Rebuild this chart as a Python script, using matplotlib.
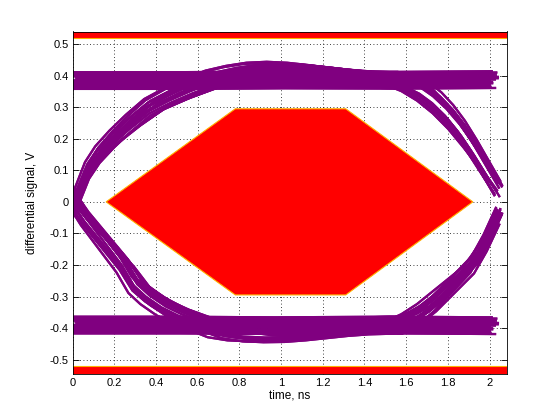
import numpy as np
import matplotlib.pyplot as plt

plt.rcParams['font.family'] = ['Liberation Sans', 'DejaVu Sans']

# eye mask (ns, V)
hex_t = [0.16, 0.78, 1.31, 1.92, 1.31, 0.78]
hex_v = [0.0, 0.295, 0.295, 0.0, -0.295, -0.295]
mask_level = 0.52

# trace shapes, first half of the window
rise_t = [-0.04, 0.00, 0.01, 0.04, 0.07, 0.12, 0.19, 0.27, 0.36, 0.46, 0.56, 0.66, 0.76, 0.86, 0.96, 1.06, 1.16, 1.26, 1.36, 1.46, 1.56]
rise_v = [-0.06, -0.015, 0.00, 0.05, 0.10, 0.15, 0.20, 0.25, 0.30, 0.335, 0.365, 0.39, 0.405, 0.415, 0.418, 0.415, 0.408, 0.40, 0.393, 0.388, 0.386]
fall_t = [-0.04, 0.00, 0.01, 0.06, 0.12, 0.18, 0.24, 0.30, 0.36, 0.44, 0.52, 0.60, 0.70, 0.80, 0.90, 1.00, 1.10, 1.20, 1.30, 1.40, 1.56]
fall_v = [0.06, 0.015, 0.00, -0.05, -0.10, -0.15, -0.20, -0.265, -0.30, -0.335, -0.36, -0.38, -0.405, -0.415, -0.418, -0.417, -0.412, -0.405, -0.398, -0.393, -0.39]
high_t = [0.00, 0.50, 1.00, 1.56]
high_v = [0.385, 0.385, 0.387, 0.386]
low_t = [0.00, 0.50, 1.00, 1.56]
low_v = [-0.39, -0.39, -0.392, -0.39]

# second half of the window
rise2_t = [1.56, 1.62, 1.68, 1.74, 1.80, 1.86, 1.92, 1.98, 2.04]
rise2_v = [-0.39, -0.375, -0.352, -0.32, -0.28, -0.24, -0.2, -0.13, -0.045]
fall2_t = [1.56, 1.62, 1.68, 1.74, 1.80, 1.86, 1.92, 1.98, 2.04]
fall2_v = [0.386, 0.375, 0.355, 0.325, 0.285, 0.235, 0.175, 0.11, 0.045]
high2_t = [1.56, 2.02]
high2_v = [0.386, 0.388]
low2_t = [1.56, 2.02]
low2_v = [-0.39, -0.392]

# spread of the traces: edge speed, time shift (ns), level shift (V)
jit_k = [0.94, 1.06, 0.97, 1.03, 1.0, 0.95, 1.05, 1.25, 0.99, 1.02, 0.96, 1.08, 1.2, 0.98, 1.01, 1.04]
jit_t = [0.01, -0.015, 0.018, -0.006, 0.0, -0.018, 0.012, -0.008, 0.02, -0.02, 0.004, 0.014, 0.0, -0.01, 0.007, -0.003]
jit_v = [0.022, -0.02, 0.004, -0.012, 0.014, -0.024, 0.018, -0.004, 0.008, -0.016, 0.0, 0.01, -0.008, 0.026, -0.027, 0.02]
t_end = 2.06

fig = plt.figure(figsize=(5.6, 4.2), dpi=100)
ax = fig.add_axes([0.13, 0.11, 0.775, 0.815])

first = [(rise_t, rise_v), (high_t, high_v), (fall_t, fall_v), (low_t, low_v)]
second_hi = [(fall2_t, fall2_v), (high2_t, high2_v)]
second_lo = [(rise2_t, rise2_v), (low2_t, low2_v)]

for i, (t1, v1) in enumerate(first):
    seconds = second_hi if i < 2 else second_lo
    for t2, v2 in seconds:
        for k, dt, dv in zip(jit_k, jit_t, jit_v):
            s1 = np.array(t1) * k + dt
            s2 = t_end - (t_end - np.array(t2)) * k + dt
            tt = np.concatenate([s1, s2])
            vv = np.concatenate([v1, v2]) + dv
            ax.plot(tt, vv, color='#800080', lw=1.6, zorder=2)

ax.fill(hex_t, hex_v, facecolor='#ff0000', edgecolor='#ffb000', lw=0.8, zorder=3)
ax.axhspan(mask_level, 1.0, color='#ff0000', zorder=3, lw=0)
ax.axhspan(-1.0, -mask_level, color='#ff0000', zorder=3, lw=0)
ax.axhline(mask_level, color='#ffb000', lw=0.8, zorder=4)
ax.axhline(-mask_level, color='#ffb000', lw=0.8, zorder=4)

ax.set_xlim(0, 2.083)
ax.set_ylim(-0.545, 0.54)
ax.set_xticks(np.arange(0, 2.01, 0.2))
ax.set_xticklabels(['0', '0.2', '0.4', '0.6', '0.8', '1', '1.2', '1.4', '1.6', '1.8', '2'])
ax.set_yticks(np.arange(-0.5, 0.51, 0.1))
ax.set_yticklabels(['-0.5', '-0.4', '-0.3', '-0.2', '-0.1', '0', '0.1', '0.2', '0.3', '0.4', '0.5'])
ax.tick_params(direction='in', length=4, width=0.6, labelsize=8, top=True, right=True, pad=3)
ax.grid(True, color='black', linestyle=(0, (1, 3)), lw=0.6)
ax.set_axisbelow(True)
for sp in ax.spines.values():
    sp.set_linewidth(0.6)
    sp.set_zorder(5)

ax.set_xlabel('time, ns', fontsize=8.5, labelpad=1)
ax.set_ylabel('differential signal, V', fontsize=8.5, labelpad=8)

fig.savefig('out.png', dpi=100)
